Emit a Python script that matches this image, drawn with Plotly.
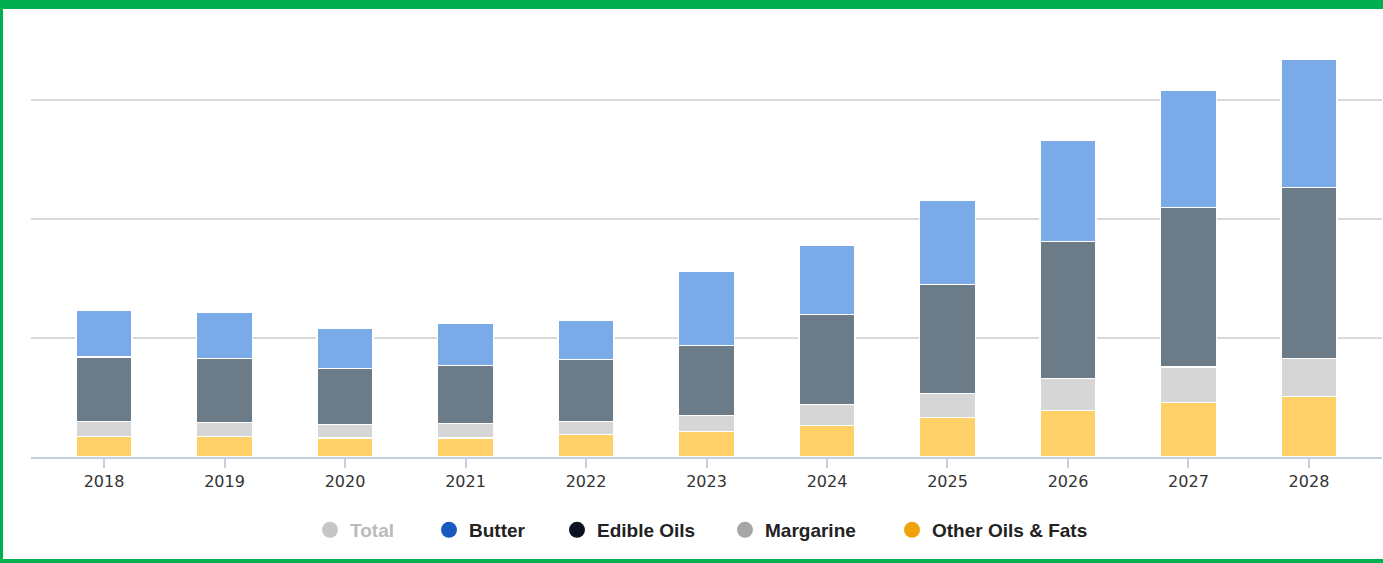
import plotly.graph_objects as go

years = ["2018", "2019", "2020", "2021", "2022", "2023", "2024", "2025", "2026", "2027", "2028"]
other_oils_fats = [1.7, 1.7, 1.6, 1.6, 1.9, 2.15, 2.65, 3.3, 3.9, 4.55, 5.05]
margarine = [1.3, 1.2, 1.1, 1.2, 1.05, 1.35, 1.75, 2.0, 2.7, 3.0, 3.2]
edible_oils = [5.4, 5.4, 4.7, 4.9, 5.25, 5.85, 7.55, 9.2, 11.5, 13.4, 14.4]
butter = [3.9, 3.85, 3.4, 3.5, 3.25, 6.2, 5.8, 7.05, 8.45, 9.8, 10.75]
total = [a + b + c + d for a, b, c, d in zip(other_oils_fats, margarine, edible_oils, butter)]

series = [
    ("Other Oils & Fats", other_oils_fats, "#FDD068", "#F0A30A"),
    ("Margarine", margarine, "#D6D6D6", "#A6A6A6"),
    ("Edible Oils", edible_oils, "#6C7B88", "#0B1220"),
    ("Butter", butter, "#7BAAE8", "#1A58C2"),
]

W, H = 1383, 563
L, R, T, B = 31, 1, 40, 106

fig = go.Figure()
for name, vals, fill, legend_color in series:
    fig.add_trace(go.Bar(
        x=list(range(len(years))), y=vals, name=name, width=0.465,
        marker=dict(color=fill, line=dict(color="white", width=1.2)),
        showlegend=False, legendgroup=name,
    ))

legend_font = dict(family="Liberation Sans", size=19, color="#222222", weight="bold")
legend_y = 1 - 530 / H
# circle centre x positions of each legend entry (pixels)
legend_pos = {"Total": 330, "Butter": 449, "Edible Oils": 577, "Margarine": 745, "Other Oils & Fats": 912}

def legend_box(cx, color="#222222"):
    f = dict(legend_font)
    f["color"] = color
    return dict(
        orientation="h", x=(cx - 20) / W, xanchor="left", y=legend_y, yanchor="middle",
        xref="container", yref="container", font=f, bgcolor="rgba(0,0,0,0)",
        itemclick=False, itemdoubleclick=False,
    )

# Total (hidden series)
fig.add_trace(go.Scatter(
    x=list(range(len(years))), y=total, name="Total", mode="markers",
    marker=dict(symbol="circle", size=16, color="#8F8F8F"),
    visible="legendonly", legend="legend",
))
legend_order = ["Butter", "Edible Oils", "Margarine", "Other Oils & Fats"]
lookup = {s[0]: s for s in series}
for i, name in enumerate(legend_order):
    fig.add_trace(go.Scatter(
        x=[None], y=[None], name=name, mode="markers", legendgroup=name,
        marker=dict(symbol="circle", size=16, color=lookup[name][3]),
        legend="legend%d" % (i + 2),
    ))

pw, ph = W - L - R, H - T - B
def px(x):
    return (x - L) / pw
def py(y):
    return (H - B - y) / ph
green = "#00B050"
shapes = [
    dict(type="rect", xref="paper", yref="paper", x0=px(-2), x1=px(W + 2), y0=py(-2), y1=py(9),
         fillcolor=green, line=dict(width=0), layer="above"),
    dict(type="rect", xref="paper", yref="paper", x0=px(-2), x1=px(3), y0=py(-2), y1=py(H + 2),
         fillcolor=green, line=dict(width=0), layer="above"),
    dict(type="rect", xref="paper", yref="paper", x0=px(-2), x1=px(W + 2), y0=py(559), y1=py(H + 2),
         fillcolor=green, line=dict(width=0), layer="above"),
]

fig.update_layout(
    width=W, height=H,
    margin=dict(l=L, r=R, t=T, b=B),
    barmode="stack",
    paper_bgcolor="white", plot_bgcolor="white",
    shapes=shapes,
    legend=legend_box(legend_pos["Total"], "#777777"),
    legend2=legend_box(legend_pos["Butter"]),
    legend3=legend_box(legend_pos["Edible Oils"]),
    legend4=legend_box(legend_pos["Margarine"]),
    legend5=legend_box(legend_pos["Other Oils & Fats"]),
    xaxis=dict(
        range=[-0.606, 10.606], tickmode="array", tickvals=list(range(len(years))), ticktext=years,
        showgrid=False, zeroline=False, showline=True, linecolor="#C6CFE2", linewidth=1.5,
        ticks="outside", ticklen=9, tickcolor="#C6CFE2", tickwidth=1.5,
        tickfont=dict(family="DejaVu Sans", size=16, color="#333333"),
    ),
    yaxis=dict(
        range=[0, 35], tickmode="array", tickvals=[10, 20, 30], showticklabels=False,
        showgrid=True, gridcolor="#D9D9D9", gridwidth=1.5, zeroline=False, showline=False,
    ),
    showlegend=True,
)

fig.write_html("out.html", config={"displayModeBar": False},
               post_script="document.body.style.margin='0';")
